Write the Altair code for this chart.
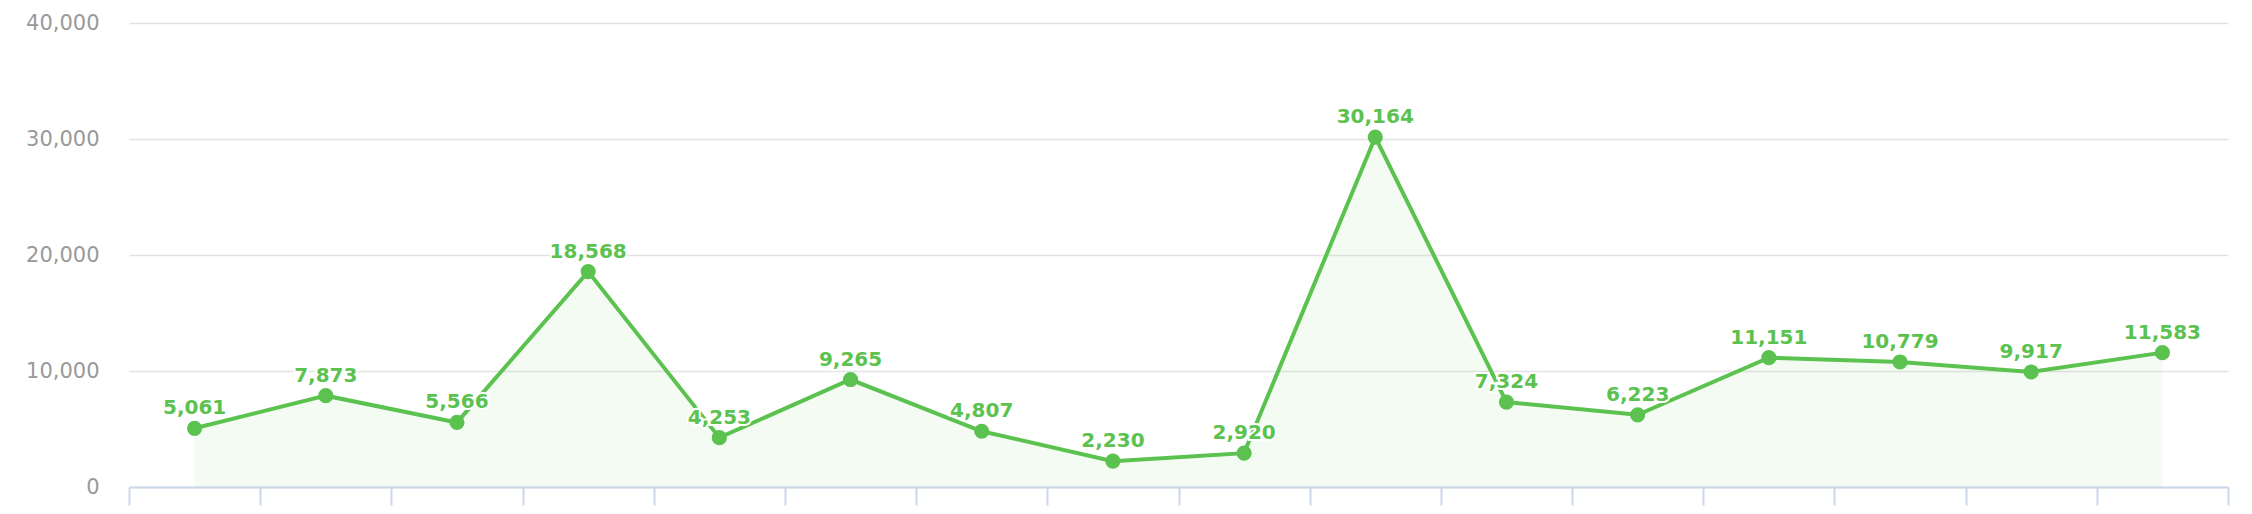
import altair as alt
import pandas as pd

positions = list(range(16))
values = [5061, 7873, 5566, 18568, 4253, 9265, 4807, 2230, 2920, 30164,
          7324, 6223, 11151, 10779, 9917, 11583]
y_ticks = [0, 10000, 20000, 30000, 40000]
x_boundaries = [p - 0.5 for p in positions] + [positions[-1] + 0.5]

df = pd.DataFrame({"idx": positions, "value": values})

GREEN = "#5bc24f"

x = alt.X("idx:Q",
          scale=alt.Scale(domain=[-0.5, 15.5], nice=False, zero=False),
          axis=alt.Axis(values=x_boundaries, labels=False, title=None, grid=False,
                        tickSize=18, tickColor="#ccd6eb", tickWidth=2,
                        domainColor="#ccd6eb", domainWidth=2))
y = alt.Y("value:Q",
          scale=alt.Scale(domain=[0, 40000], nice=False),
          axis=alt.Axis(values=y_ticks, format=",d", title=None, ticks=False, domain=False,
                        labelPadding=30, labelFont="DejaVu Sans", labelFontSize=21,
                        labelColor="#999999", gridColor="#e3e3e3", gridWidth=1.5))

base = alt.Chart(df)

area = base.mark_area(color=GREEN, opacity=0.07).encode(x=x, y=y)
line = base.mark_line(color=GREEN, strokeWidth=4).encode(x=x, y=y)
pts = base.mark_circle(color=GREEN, size=230, opacity=1).encode(x=x, y=y)
halo = base.mark_text(font="DejaVu Sans", fontSize=20, fontWeight="bold", dy=-14,
                      baseline="alphabetic", color="white", stroke="white",
                      strokeWidth=4).encode(x=x, y=y, text=alt.Text("value:Q", format=",d"))
labels = base.mark_text(font="DejaVu Sans", fontSize=20, fontWeight="bold", dy=-14,
                        baseline="alphabetic", color=GREEN).encode(
    x=x, y=y, text=alt.Text("value:Q", format=",d"))

chart = alt.layer(area, line, pts, halo, labels).properties(
    width=2099, height=464,
    background="white",
    autosize=alt.AutoSizeParams(type="none"),
    padding={"left": 121, "top": 15, "right": 16, "bottom": 19},
).configure_view(strokeWidth=0, stroke="transparent")

chart.save("out.html", embed_options={"renderer": "svg", "actions": False})
